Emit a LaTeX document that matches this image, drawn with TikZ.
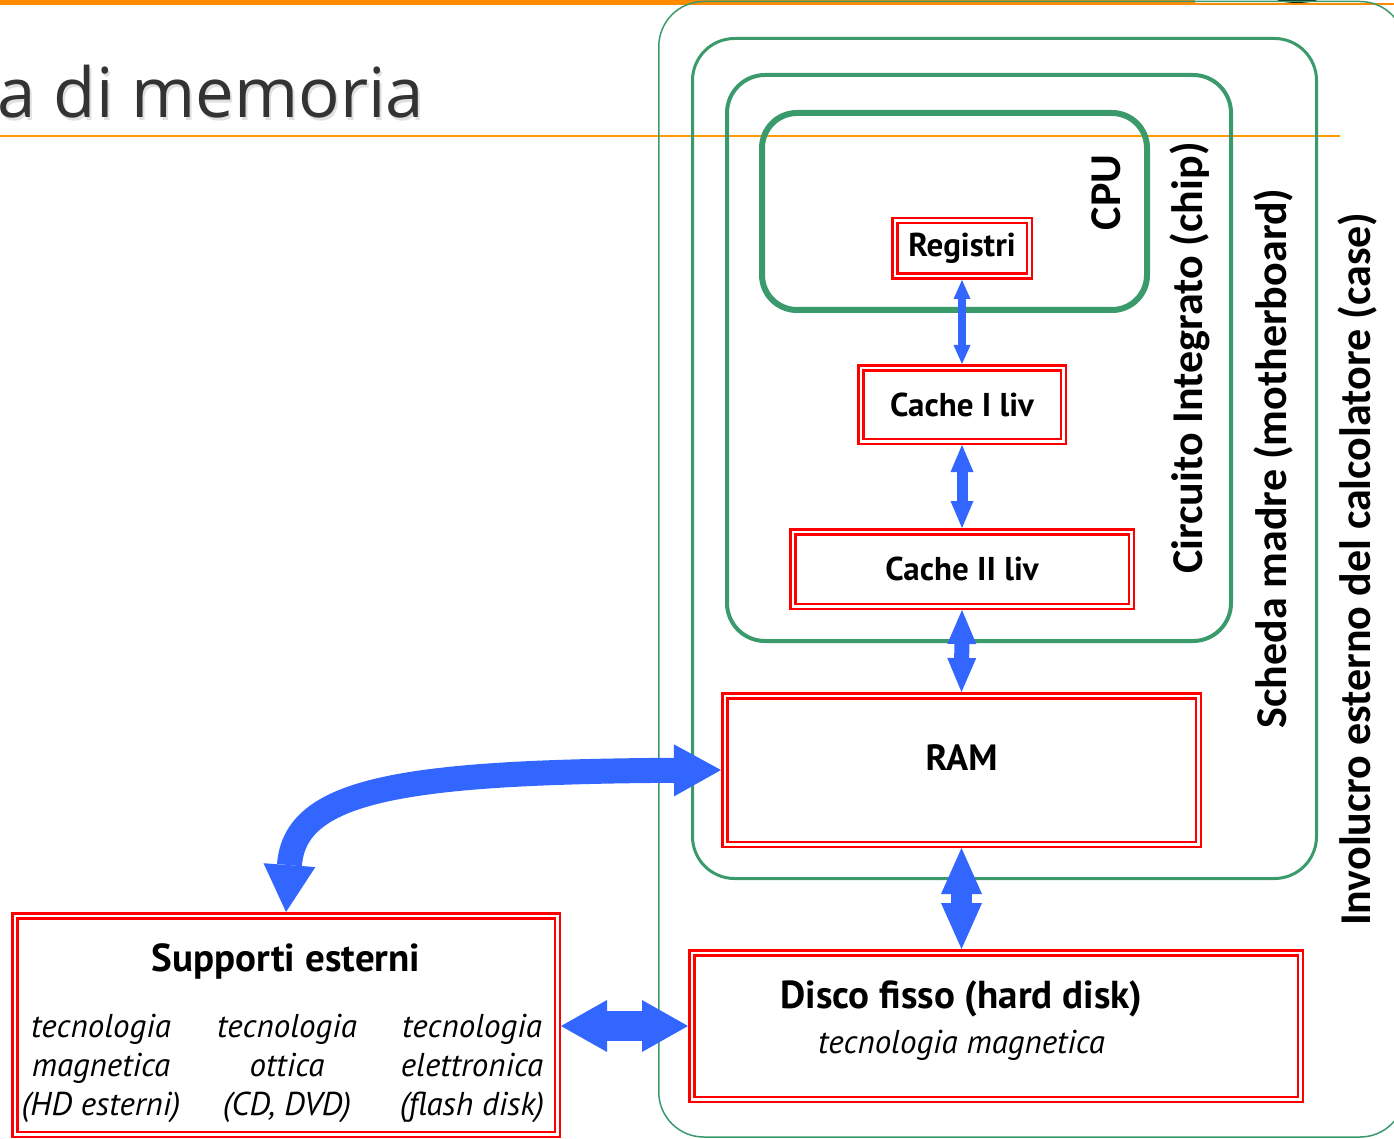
\documentclass[tikz,border=0pt]{standalone}
\usepackage{fontspec}
\setmainfont{PT Sans}
\newfontfamily\sidefont{Carlito}
\newfontfamily\headfont{Open Sans}
\usetikzlibrary{arrows.meta,calc}

\definecolor{shellgreen}{HTML}{3A9A6B}
\definecolor{linkblue}{HTML}{3366FF}
\definecolor{barorange}{HTML}{FF8C00}
\definecolor{ruleorange}{HTML}{FF9900}
\definecolor{headgray}{HTML}{333333}

% heading text with a soft drop shadow behind it
\newcommand{\shadowed}[1]{\rlap{\hspace{2pt}\raisebox{-3pt}{\color{black!12}#1}}#1}

\tikzset{
  memo/.style={draw=red, double=white, line width=2.5pt, double distance=2.5pt,
    outer sep=3.75pt, inner sep=0pt},
  shell/.style={draw=shellgreen, rounded corners=#1, inner sep=0pt},
  side/.style={rotate=90, font=\sidefont\bfseries\fontsize{44}{48}\selectfont},
  lbl/.style={font=\bfseries\fontsize{#1}{#1}\selectfont},
  tech/.style={align=center, font=\itshape\fontsize{33}{39}\selectfont},
  link/.style n args={3}{draw=linkblue, line width=#1,
    arrows={Triangle[width=#2,length=#3,line width=0pt]-Triangle[width=#2,length=#3,line width=0pt]}}
}

\begin{document}
\begin{tikzpicture}[x=1pt,y=-1pt]
\useasboundingbox (0,0) rectangle (1394,1139);

% slide header
\fill[barorange] (0,0) rectangle (1195,5);
\fill[barorange] (1195,3.5) rectangle (1394,5.5);
\fill[black!85!shellgreen] (1297,-4) ellipse [x radius=25, y radius=7];
\draw[ruleorange, line width=2.5pt] (0,136) -- (1340,136);
\node[anchor=base west, text=headgray, font=\headfont\fontsize{69}{69}\selectfont] (head) at (-6,118) {\shadowed{a di memoria}};

% nested containers
\node[shell=45pt, line width=1.5pt, minimum width=746.25, minimum height=1135.5] (case) at (1031.9,569.25) {};
\node[shell=42pt, line width=3pt, minimum width=624, minimum height=840] (board) at (1004.5,458.5) {};
\node[shell=38pt, line width=4pt, minimum width=504, minimum height=566] (chip) at (979,358) {};
\node[shell=35pt, line width=6pt, minimum width=385, minimum height=197] (cpu) at (954.5,211.5) {};

\node[side] (cpulbl) at ($(cpu.east)+(-44,-19)$) {CPU};
\node[side] (chiplbl) at ($(chip.east)+(-43,0)$) {Circuito Integrato (chip)};
\node[side] (boardlbl) at ($(board.east)+(-44.5,0)$) {Scheda madre (motherboard)};
\node[side] (caselbl) at ($(case.east)+(-48,0)$) {Involucro esterno del calcolatore (case)};

% memory levels
\node[memo, lbl=33, minimum width=134.5, minimum height=55.5] (reg) at (962,248.5) {Registri};
\node[memo, lbl=33, minimum width=202.5, minimum height=73.5] (cache1) at (962,404.5) {Cache I liv};
\node[memo, lbl=33, minimum width=338.5, minimum height=74.5] (cache2) at (962,569) {Cache II liv};
\node[memo, lbl=36.5, minimum width=473.5, minimum height=148.5] (ram) at (961.5,770) {\raisebox{24pt}{RAM}};
\node[memo, minimum width=608.5, minimum height=146.5] (disk) at (996,1026) {};
\node[memo, minimum width=542.5, minimum height=218.5] (supp) at (286,1025) {};

\node[lbl=39] (disktitle) at ($(ram.center |- disk.center)+(0,-27)$) {Disco fisso (hard disk)};
\node[tech] (disktech) at ($(ram.center |- disk.center)+(0,19)$) {tecnologia magnetica};
\node[lbl=39] (supptitle) at ($(supp.center)+(0,-64)$) {Supporti esterni};
\node[tech] (magn) at ($(supp.center)+(-185,43)$) {tecnologia\\magnetica\\(HD esterni)};
\node[tech] (opt) at ($(supp.center)+(1,43)$) {tecnologia\\ottica\\(CD, DVD)};
\node[tech] (elec) at ($(supp.center)+(186,43)$) {tecnologia\\elettronica\\(flash disk)};

% transfers between levels
\draw[link={8.6pt}{17pt}{19pt}] (reg.south) -- (cache1.north);
\draw[link={11pt}{23pt}{27pt}] (cache1.south) -- (cache2.north);
\draw[link={15pt}{29pt}{34pt}] (cache2.south) -- (ram.south |- ram.north);
\draw[link={21pt}{41pt}{46pt}] (ram.south) -- (ram.south |- disk.north);
\draw[link={30pt}{52pt}{46pt}] (supp.east |- disk.west) -- (disk.west);
\draw[link={25pt}{52pt}{47pt}] (ram.west) .. controls (400,772) and (295,790) .. (supp.north);
\end{tikzpicture}
\end{document}
